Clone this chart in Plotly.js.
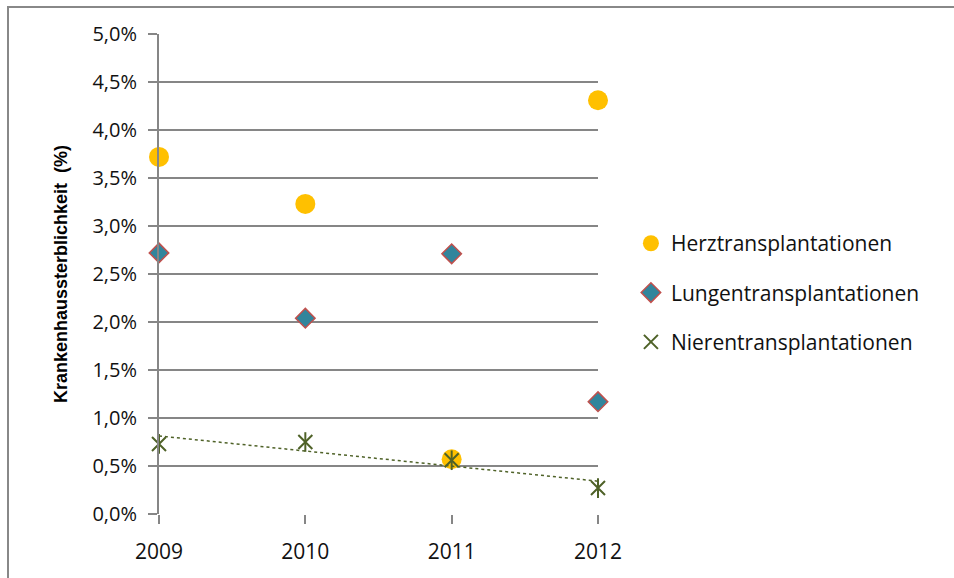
<!DOCTYPE html>
<html>
<head>
<meta charset="utf-8">
<script src="https://cdn.plot.ly/plotly-3.0.1.min.js"></script>
<style>
  html, body { margin: 0; padding: 0; background: #fff; }
  #wrap { position: relative; width: 954px; height: 578px; }
  #frame { position: absolute; left: 7px; top: 6px; right: 0; bottom: 0;
           border-left: 2px solid #888; border-top: 2px solid #888; pointer-events: none; }
  #chart { position: absolute; left: 0; top: 0; width: 954px; height: 578px; }
</style>
</head>
<body>
<div id="wrap">
  <div id="chart"></div>
  <div id="frame"></div>
</div>
<script>
// ---- data ----
const years = [2009, 2010, 2011, 2012];
const herz = [0.0372, 0.0323, 0.0057, 0.0431];
const lungen = [0.0272, 0.0204, 0.0271, 0.0117];
const nieren = [0.0073, 0.0075, 0.0056, 0.0027];
const seriesNames = ['Herztransplantationen', 'Lungentransplantationen', 'Nierentransplantationen'];
const yTitle = 'Krankenhaussterblichkeit  (%)';

// linear trend for Nieren (least squares)
function linFit(xs, ys) {
  const n = xs.length;
  const mx = xs.reduce((a, b) => a + b, 0) / n;
  const my = ys.reduce((a, b) => a + b, 0) / n;
  let sxy = 0, sxx = 0;
  for (let i = 0; i < n; i++) { sxy += (xs[i] - mx) * (ys[i] - my); sxx += (xs[i] - mx) ** 2; }
  const b = sxy / sxx;
  return xs.map(x => my + b * (x - mx));
}
const trend = linFit(years, nieren);

const FONT = 'Open Sans, sans-serif';
const nierenColor = '#4F6228';

const traces = [
  { x: years, y: herz, type: 'scatter', mode: 'markers', name: seriesNames[0], legendgroup: 'a',
    cliponaxis: false,
    marker: { symbol: 'circle', size: 20, color: '#FFC000' } },
  { x: years, y: lungen, type: 'scatter', mode: 'markers', name: seriesNames[1], legendgroup: 'b',
    cliponaxis: false,
    marker: { symbol: 'diamond', size: 15, color: '#31859C', line: { color: '#C0504D', width: 1.5 } } },
  { x: years, y: trend, type: 'scatter', mode: 'lines', showlegend: false, hoverinfo: 'skip',
    cliponaxis: false,
    line: { color: nierenColor, width: 1.5, dash: 'dot' } },
  { x: years, y: nieren, type: 'scatter', mode: 'markers', name: seriesNames[2], legendgroup: 'c',
    cliponaxis: false,
    marker: { symbol: 'x-thin-open', size: 14, color: nierenColor, line: { color: nierenColor, width: 2 } } },
  { x: years, y: nieren, type: 'scatter', mode: 'markers', showlegend: false, legendgroup: 'c',
    cliponaxis: false,
    marker: { symbol: 'line-ns-open', size: 14, color: nierenColor, line: { color: nierenColor, width: 2 } } }
];

const layout = {
  width: 954, height: 578,
  margin: { l: 159, r: 356, t: 34, b: 64 },
  paper_bgcolor: '#fff', plot_bgcolor: '#fff',
  separators: ',.',
  font: { family: FONT, size: 18, color: '#000' },
  showlegend: true,
  legend: { x: 1.075, xanchor: 'left', y: 0.606, yanchor: 'top', tracegroupgap: 19,
            font: { family: FONT, size: 21, color: '#111' }, itemwidth: 30 },
  xaxis: {
    range: [2009, 2012], tickvals: years, ticktext: years.map(String),
    showgrid: false, zeroline: false,
    showline: false,
    ticks: 'outside', ticklen: 9, tickwidth: 2, tickcolor: '#868686',
    ticklabelstandoff: 10,
    tickfont: { family: FONT, size: 21, color: '#111' }
  },
  yaxis: {
    range: [0, 0.05], dtick: 0.005, tickformat: '.1%',
    showgrid: true, gridcolor: '#868686', gridwidth: 2,
    zeroline: false, showline: true, linecolor: '#868686', linewidth: 2,
    ticks: 'outside', ticklen: 9, tickwidth: 2, tickcolor: '#868686',
    ticklabelstandoff: 7,
    tickfont: { family: FONT, size: 20, color: '#111' },
    title: { text: yTitle, font: { family: 'Liberation Sans, Arial, sans-serif', size: 18, color: '#000', weight: 'bold' }, standoff: 20 }
  }
};

Plotly.newPlot('chart', traces, layout, { displayModeBar: false, staticPlot: true });
</script>
</body>
</html>
